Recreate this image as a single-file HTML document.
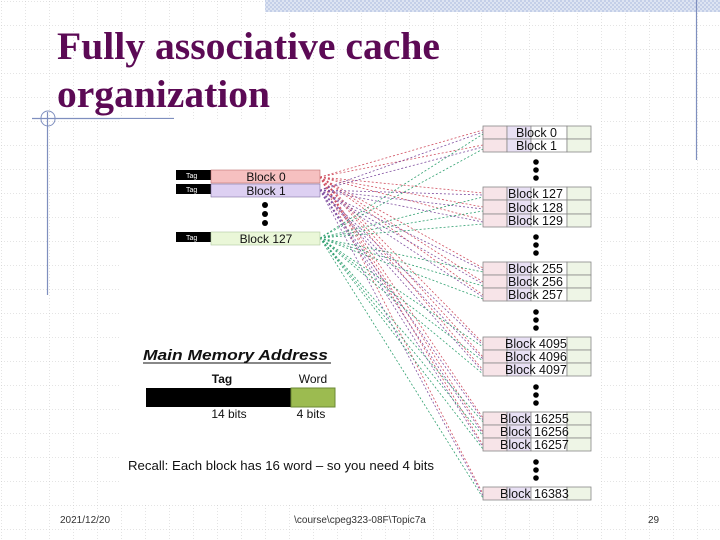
<!DOCTYPE html>
<html><head><meta charset="utf-8"><style>
html,body{margin:0;padding:0;background:#fff}
body{width:720px;height:540px;overflow:hidden;position:relative}
svg{position:absolute;left:0;top:0}
</style></head><body>
<svg width="720" height="540" xmlns="http://www.w3.org/2000/svg" font-family="Liberation Sans, DejaVu Sans, sans-serif">
<defs>
<pattern id="g" width="24" height="24" patternUnits="userSpaceOnUse" x="1" y="1">
<path d="M0 0H24M0 0V24" stroke="#c8c8c8" stroke-width="1" stroke-dasharray="1 2" fill="none"/>
</pattern>
<pattern id="h" width="4" height="4" patternUnits="userSpaceOnUse">
<rect width="4" height="4" fill="#dde4f2"/><rect width="2" height="2" fill="#c4cfe8"/><rect x="2" y="2" width="2" height="2" fill="#c4cfe8"/>
</pattern>
</defs>
<rect width="720" height="540" fill="url(#g)"/>
<rect x="265" y="0" width="455" height="12" fill="url(#h)"/>
<line x1="696.5" y1="0" x2="696.5" y2="160" stroke="#7f8fbf" stroke-width="1.2"/>
<text x="57" y="59" font-family="Liberation Serif, serif" font-weight="bold" font-size="39" fill="#5c0a55" textLength="383" lengthAdjust="spacingAndGlyphs">Fully associative cache</text>
<text x="57" y="107" font-family="Liberation Serif, serif" font-weight="bold" font-size="39" fill="#5c0a55" textLength="213" lengthAdjust="spacingAndGlyphs">organization</text>
<line x1="32" y1="118.5" x2="174" y2="118.5" stroke="#7f8fbf" stroke-width="1.2"/>
<line x1="47.5" y1="112" x2="47.5" y2="295" stroke="#7f8fbf" stroke-width="1.2"/>
<path d="M41 118 A7 7 0 0 1 55 118" fill="none" stroke="#7f8fbf"/>
<path d="M41 119 A7 7 0 0 0 55 119" fill="none" stroke="#7f8fbf"/>
<rect x="120" y="119" width="480" height="386" fill="#fff"/>
<g fill="none" stroke-width="0.8" stroke-dasharray="2 2">
<g stroke="#d05060">
<path d="M320 177L483 130M320 177L483 145M320 177L483 193M320 177L483 207M320 177L483 220M320 177L483 268M320 177L483 282M320 177L483 295M320 177L483 343M320 177L483 357M320 177L483 370M320 177L483 418M320 177L483 432M320 177L483 445M320 177L483 494"/>
</g>
<g stroke="#8050a0">
<path d="M320 190L483 132M320 190L483 147M320 190L483 195M320 190L483 209M320 190L483 222M320 190L483 270M320 190L483 284M320 190L483 297M320 190L483 345M320 190L483 359M320 190L483 372M320 190L483 420M320 190L483 434M320 190L483 447M320 190L483 496"/>
</g>
<g stroke="#30a070">
<path d="M320 238L483 134M320 238L483 149M320 238L483 197M320 238L483 211M320 238L483 224M320 238L483 272M320 238L483 286M320 238L483 299M320 238L483 347M320 238L483 361M320 238L483 374M320 238L483 422M320 238L483 436M320 238L483 449M320 238L483 498"/>
</g>
</g>
<g font-size="7" fill="#fff">
<rect x="176" y="170" width="35" height="10" fill="#000"/><text x="186" y="178">Tag</text>
<rect x="176" y="184" width="35" height="10" fill="#000"/><text x="186" y="192">Tag</text>
<rect x="176" y="232" width="35" height="10" fill="#000"/><text x="186" y="240">Tag</text>
</g>
<rect x="211" y="170" width="109" height="13" fill="#f6c0c0" stroke="#c07070" stroke-width="0.6"/>
<rect x="211" y="184" width="109" height="13" fill="#ddd0f2" stroke="#8070a0" stroke-width="0.6"/>
<rect x="211" y="232" width="109" height="13" fill="#eaf7d8" stroke="#b0c8a0" stroke-width="0.6"/>
<g font-size="12" fill="#111" text-anchor="middle">
<text x="266" y="181">Block 0</text><text x="266" y="195">Block 1</text><text x="266" y="243">Block 127</text>
</g>
<g fill="#000"><circle cx="265" cy="205" r="3"/><circle cx="265" cy="214" r="3"/><circle cx="265" cy="223" r="3"/></g>
<g font-size="12.5" fill="#111">
<g stroke="#888" stroke-width="0.8">
<rect x="483" y="126" width="24" height="13" fill="#f7e4e8"/><rect x="507" y="126" width="24" height="13" fill="#e8e0f4"/><rect x="531" y="126" width="36" height="13" fill="#fff"/><rect x="567" y="126" width="24" height="13" fill="#eef5e6"/>
<rect x="483" y="139" width="24" height="13" fill="#f7e4e8"/><rect x="507" y="139" width="24" height="13" fill="#e8e0f4"/><rect x="531" y="139" width="36" height="13" fill="#fff"/><rect x="567" y="139" width="24" height="13" fill="#eef5e6"/>
<rect x="483" y="187" width="24" height="13" fill="#f7e4e8"/><rect x="507" y="187" width="24" height="13" fill="#e8e0f4"/><rect x="531" y="187" width="36" height="13" fill="#fff"/><rect x="567" y="187" width="24" height="13" fill="#eef5e6"/>
<rect x="483" y="200" width="24" height="14" fill="#f7e4e8"/><rect x="507" y="200" width="24" height="14" fill="#e8e0f4"/><rect x="531" y="200" width="36" height="14" fill="#fff"/><rect x="567" y="200" width="24" height="14" fill="#eef5e6"/>
<rect x="483" y="214" width="24" height="13" fill="#f7e4e8"/><rect x="507" y="214" width="24" height="13" fill="#e8e0f4"/><rect x="531" y="214" width="36" height="13" fill="#fff"/><rect x="567" y="214" width="24" height="13" fill="#eef5e6"/>
<rect x="483" y="262" width="24" height="13" fill="#f7e4e8"/><rect x="507" y="262" width="24" height="13" fill="#e8e0f4"/><rect x="531" y="262" width="36" height="13" fill="#fff"/><rect x="567" y="262" width="24" height="13" fill="#eef5e6"/>
<rect x="483" y="275" width="24" height="13" fill="#f7e4e8"/><rect x="507" y="275" width="24" height="13" fill="#e8e0f4"/><rect x="531" y="275" width="36" height="13" fill="#fff"/><rect x="567" y="275" width="24" height="13" fill="#eef5e6"/>
<rect x="483" y="288" width="24" height="13" fill="#f7e4e8"/><rect x="507" y="288" width="24" height="13" fill="#e8e0f4"/><rect x="531" y="288" width="36" height="13" fill="#fff"/><rect x="567" y="288" width="24" height="13" fill="#eef5e6"/>
<rect x="483" y="337" width="24" height="13" fill="#f7e4e8"/><rect x="507" y="337" width="24" height="13" fill="#e8e0f4"/><rect x="531" y="337" width="36" height="13" fill="#fff"/><rect x="567" y="337" width="24" height="13" fill="#eef5e6"/>
<rect x="483" y="350" width="24" height="13" fill="#f7e4e8"/><rect x="507" y="350" width="24" height="13" fill="#e8e0f4"/><rect x="531" y="350" width="36" height="13" fill="#fff"/><rect x="567" y="350" width="24" height="13" fill="#eef5e6"/>
<rect x="483" y="363" width="24" height="13" fill="#f7e4e8"/><rect x="507" y="363" width="24" height="13" fill="#e8e0f4"/><rect x="531" y="363" width="36" height="13" fill="#fff"/><rect x="567" y="363" width="24" height="13" fill="#eef5e6"/>
<rect x="483" y="412" width="24" height="13" fill="#f7e4e8"/><rect x="507" y="412" width="24" height="13" fill="#e8e0f4"/><rect x="531" y="412" width="36" height="13" fill="#fff"/><rect x="567" y="412" width="24" height="13" fill="#eef5e6"/>
<rect x="483" y="425" width="24" height="13" fill="#f7e4e8"/><rect x="507" y="425" width="24" height="13" fill="#e8e0f4"/><rect x="531" y="425" width="36" height="13" fill="#fff"/><rect x="567" y="425" width="24" height="13" fill="#eef5e6"/>
<rect x="483" y="438" width="24" height="13" fill="#f7e4e8"/><rect x="507" y="438" width="24" height="13" fill="#e8e0f4"/><rect x="531" y="438" width="36" height="13" fill="#fff"/><rect x="567" y="438" width="24" height="13" fill="#eef5e6"/>
<rect x="483" y="487" width="24" height="13" fill="#f7e4e8"/><rect x="507" y="487" width="24" height="13" fill="#e8e0f4"/><rect x="531" y="487" width="36" height="13" fill="#fff"/><rect x="567" y="487" width="24" height="13" fill="#eef5e6"/>
</g>
<text x="516" y="137">Block 0</text><text x="516" y="150">Block 1</text>
<text x="508" y="198">Block 127</text><text x="508" y="212">Block 128</text><text x="508" y="225">Block 129</text>
<text x="508" y="273">Block 255</text><text x="508" y="286">Block 256</text><text x="508" y="299">Block 257</text>
<text x="505" y="348">Block 4095</text><text x="505" y="361">Block 4096</text><text x="505" y="374">Block 4097</text>
<text x="500" y="423">Block 16255</text><text x="500" y="436">Block 16256</text><text x="500" y="449">Block 16257</text>
<text x="500" y="498">Block 16383</text>
</g>
<g fill="#000">
<circle cx="536" cy="162" r="2.8"/><circle cx="536" cy="170" r="2.8"/><circle cx="536" cy="178" r="2.8"/>
<circle cx="536" cy="237" r="2.8"/><circle cx="536" cy="245" r="2.8"/><circle cx="536" cy="253" r="2.8"/>
<circle cx="536" cy="312" r="2.8"/><circle cx="536" cy="320" r="2.8"/><circle cx="536" cy="328" r="2.8"/>
<circle cx="536" cy="387" r="2.8"/><circle cx="536" cy="395" r="2.8"/><circle cx="536" cy="403" r="2.8"/>
<circle cx="536" cy="462" r="2.8"/><circle cx="536" cy="470" r="2.8"/><circle cx="536" cy="478" r="2.8"/>
</g>
<text x="143" y="360" font-size="15" font-weight="bold" font-style="italic" fill="#111" textLength="185" lengthAdjust="spacingAndGlyphs">Main Memory Address</text>
<line x1="143" y1="363" x2="331" y2="363" stroke="#111" stroke-width="1"/>
<text x="222" y="383" font-size="12" font-weight="bold" text-anchor="middle" fill="#111">Tag</text>
<text x="313" y="383" font-size="12" text-anchor="middle" fill="#111">Word</text>
<rect x="146" y="388" width="145" height="19" fill="#000"/>
<rect x="291" y="388" width="44" height="19" fill="#9cbb50" stroke="#6b8a35"/>
<text x="229" y="418" font-size="12" text-anchor="middle" fill="#111">14 bits</text>
<text x="311" y="418" font-size="12" text-anchor="middle" fill="#111">4 bits</text>
<text x="128" y="470" font-size="13" fill="#111" textLength="306" lengthAdjust="spacingAndGlyphs">Recall: Each block has 16 word – so you need 4 bits</text>
<g font-size="10" fill="#333">
<text x="60" y="523">2021/12/20</text>
<text x="360" y="523" text-anchor="middle">\course\cpeg323-08F\Topic7a</text>
<text x="648" y="523">29</text>
</g>
</svg>
</body></html>
